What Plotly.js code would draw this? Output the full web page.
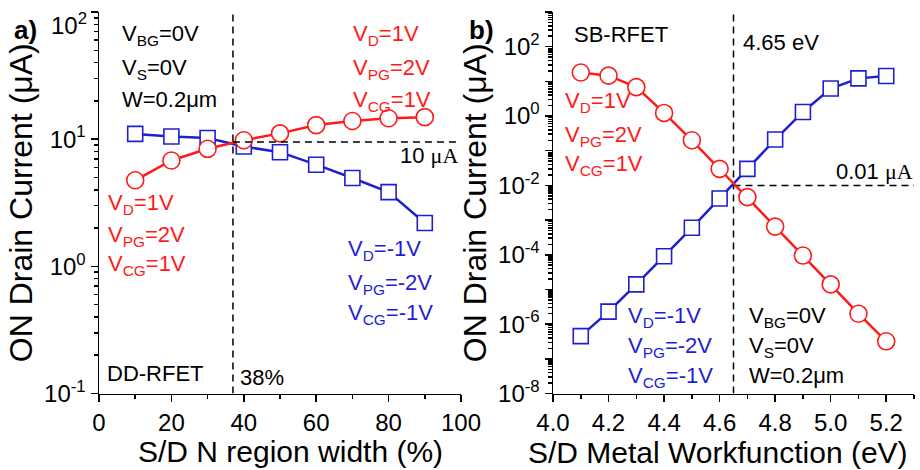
<!DOCTYPE html>
<html>
<head>
<meta charset="utf-8">
<script src="https://cdn.plot.ly/plotly-3.0.1.min.js"></script>
<style>html,body{margin:0;padding:0;background:#fff}#chart{width:920px;height:470px}</style>
</head>
<body>
<div id="chart"></div>
<script>
// ---- Data: panel a) DD-RFET ----
const widthPct = [10, 20, 30, 40, 50, 60, 70, 80, 90];
const nOnCurrentA = [4.75, 6.8, 8.4, 9.8, 11.1, 12.9, 13.9, 14.6, 14.9];   // red, uA
const pOnCurrentA = [11.0, 10.5, 10.2, 8.75, 7.9, 6.3, 4.95, 3.83, 2.19];  // blue, uA
const crossWidth = 37;
const crossCurrentA = 9.5;

// ---- Data: panel b) SB-RFET ----
const workfunction = [4.1, 4.2, 4.3, 4.4, 4.5, 4.6, 4.7, 4.8, 4.9, 5.0, 5.1, 5.2];
const nOnCurrentB = [18, 14.6, 6.8, 1.23, 0.2, 0.030, 0.0046, 6.5e-4, 9.5e-5, 1.4e-5, 2.0e-6, 3.2e-7];
const pOnCurrentB = [4.5e-7, 2.3e-6, 1.4e-5, 9.1e-5, 6e-4, 4.2e-3, 0.030, 0.21, 1.31, 6.2, 12.2, 14.3];
const crossWF = 4.65;
const crossCurrentB = 0.01;

// ---- Tick labels ----
const yTickValsA = [0.1, 1, 10, 100];
const yTickTextA = ['10<sup>-1</sup>', '10<sup>0</sup>', '10<sup>1</sup>', ''];
const yTopLabelA = '10<sup>2</sup>';   // drawn slightly lowered so it fits the page, as in the original
const yTickValsB = [1e-8, 1e-7, 1e-6, 1e-5, 1e-4, 1e-3, 1e-2, 1e-1, 1, 10, 100, 1000];
const yTickTextB = ['10<sup>-8</sup>', '', '10<sup>-6</sup>', '', '10<sup>-4</sup>', '', '10<sup>-2</sup>', '', '10<sup>0</sup>', '', '10<sup>2</sup>', ''];

const RED = '#ff1a1a';
const BLUE = '#1f1fd0';
const FONT = 'Liberation Sans, Arial, sans-serif';

function minorLog(lo, hi) {
  const v = [];
  for (let e = lo; e < hi; e++) for (let m = 2; m <= 9; m++) v.push(m * Math.pow(10, e));
  return v;
}

const W = 920, H = 470;
const dxA = [99 / W, 461 / W];
const dxB = [553 / W, 914 / W];
const dy = [(H - 393.5) / H, (H - 12) / H];

const traces = [
  {x: widthPct, y: pOnCurrentA, xaxis: 'x', yaxis: 'y', mode: 'lines+markers',
   line: {color: BLUE, width: 2.5},
   marker: {symbol: 'square', size: 15, color: '#fff', line: {color: BLUE, width: 1.6}}},
  {x: widthPct, y: nOnCurrentA, xaxis: 'x', yaxis: 'y', mode: 'lines+markers',
   line: {color: RED, width: 2.5},
   marker: {symbol: 'circle', size: 17, color: '#fff', line: {color: RED, width: 1.6}}},
  {x: [crossWidth, crossWidth], y: [0.1, 100], xaxis: 'x', yaxis: 'y', mode: 'lines',
   line: {color: '#000', width: 1.5, dash: '7px,5px'}},
  {x: [crossWidth, 100], y: [crossCurrentA, crossCurrentA], xaxis: 'x', yaxis: 'y', mode: 'lines',
   line: {color: '#000', width: 1.5, dash: '7px,5px'}},

  {x: [crossWF, crossWF], y: [1e-8, 1000], xaxis: 'x2', yaxis: 'y2', mode: 'lines',
   line: {color: '#000', width: 1.5, dash: '7px,5px'}},
  {x: [crossWF, 5.3], y: [crossCurrentB, crossCurrentB], xaxis: 'x2', yaxis: 'y2', mode: 'lines',
   line: {color: '#000', width: 1.5, dash: '7px,5px'}},
  {x: workfunction, y: pOnCurrentB, xaxis: 'x2', yaxis: 'y2', mode: 'lines+markers',
   line: {color: BLUE, width: 2.5},
   marker: {symbol: 'square', size: 15, color: '#fff', line: {color: BLUE, width: 1.6}}},
  {x: workfunction, y: nOnCurrentB, xaxis: 'x2', yaxis: 'y2', mode: 'lines+markers',
   line: {color: RED, width: 2.5},
   marker: {symbol: 'circle', size: 17, color: '#fff', line: {color: RED, width: 1.6}}}
];

const axBase = {showgrid: false, zeroline: false, showline: true, linecolor: '#000', linewidth: 1.5,
  tickcolor: '#000', tickwidth: 1.5, ticklen: 7, ticklabeloverflow: 'allow',
  tickfont: {size: 24, color: '#000', family: FONT}};

const layout = {
  width: W, height: H, margin: {l: 0, r: 0, t: 0, b: 0},
  paper_bgcolor: '#fff', plot_bgcolor: '#fff', showlegend: false,
  font: {family: FONT, color: '#000'},
  xaxis: Object.assign({}, axBase, {domain: dxA, anchor: 'y', range: [0, 100], tickmode: 'linear', tick0: 0, dtick: 20,
    ticks: 'outside', minor: {dtick: 10, tick0: 0, ticks: 'outside', ticklen: 4, tickwidth: 1.5, tickcolor: '#000'}}),
  xaxis3: Object.assign({}, axBase, {overlaying: 'x', side: 'top', anchor: 'y', range: [0, 100], tickmode: 'linear', tick0: 0, dtick: 20,
    ticks: 'inside', showticklabels: false, minor: {dtick: 10, tick0: 0, ticks: 'inside', ticklen: 4, tickwidth: 1.5, tickcolor: '#000'}}),
  yaxis: Object.assign({}, axBase, {domain: dy, anchor: 'x', type: 'log', range: [-1, 2], tickmode: 'array',
    tickvals: yTickValsA, ticktext: yTickTextA, ticks: 'outside',
    minor: {tickmode: 'array', tickvals: minorLog(-1, 2), ticks: 'outside', ticklen: 4, tickwidth: 1.5, tickcolor: '#000'},
    title: {text: 'ON Drain Current (μA)', font: {size: 32, family: FONT}, standoff: 2}}),
  yaxis3: Object.assign({}, axBase, {overlaying: 'y', side: 'right', anchor: 'x', type: 'log', range: [-1, 2], tickmode: 'array',
    tickvals: yTickValsA, ticks: 'inside', showticklabels: false,
    minor: {tickmode: 'array', tickvals: minorLog(-1, 2), ticks: 'inside', ticklen: 4, tickwidth: 1.5, tickcolor: '#000'}}),

  xaxis2: Object.assign({}, axBase, {domain: dxB, anchor: 'y2', range: [4.0, 5.3], tickmode: 'linear', tick0: 4.0, dtick: 0.2,
    tickformat: '.1f', ticks: 'outside', minor: {dtick: 0.1, tick0: 4.0, ticks: 'outside', ticklen: 4, tickwidth: 1.5, tickcolor: '#000'}}),
  xaxis4: Object.assign({}, axBase, {overlaying: 'x2', side: 'top', anchor: 'y2', range: [4.0, 5.3], tickmode: 'linear', tick0: 4.0, dtick: 0.2,
    ticks: 'inside', showticklabels: false, minor: {dtick: 0.1, tick0: 4.0, ticks: 'inside', ticklen: 4, tickwidth: 1.5, tickcolor: '#000'}}),
  yaxis2: Object.assign({}, axBase, {domain: dy, anchor: 'x2', type: 'log', range: [-8, 3], tickmode: 'array',
    tickvals: yTickValsB, ticktext: yTickTextB, ticks: 'outside',
    minor: {tickmode: 'array', tickvals: minorLog(-8, 3), ticks: 'outside', ticklen: 4, tickwidth: 1.5, tickcolor: '#000'},
    title: {text: 'ON Drain Current (μA)', font: {size: 32, family: FONT}, standoff: 2}}),
  yaxis4: Object.assign({}, axBase, {overlaying: 'y2', side: 'right', anchor: 'x2', type: 'log', range: [-8, 3], tickmode: 'array',
    tickvals: yTickValsB, ticks: 'inside', showticklabels: false,
    minor: {tickmode: 'array', tickvals: minorLog(-8, 3), ticks: 'inside', ticklen: 4, tickwidth: 1.5, tickcolor: '#000'}}),
  annotations: []
};

function ann(text, px, py, xanchor, color, size, bold) {
  layout.annotations.push({text: bold ? '<b>' + text + '</b>' : text, xref: 'paper', yref: 'paper',
    x: px / W, y: 1 - py / H, xanchor: xanchor, yanchor: 'middle', showarrow: false,
    font: {size: size || 22, color: color || '#000', family: FONT}});
}
const MU = "<span style='font-family:Liberation Serif'>μA</span>";

// axis titles (x)
ann('S/D N region width (%)', 290, 451, 'center', '#000', 30);
ann('S/D Metal Workfunction (eV)', 718, 452, 'center', '#000', 30);
// top tick label of panel a, lowered to stay on the page
ann(yTopLabelA, 89, 24, 'right', '#000', 24);

// panel a
ann('a)', 12, 30, 'left', '#000', 26, true);
ann('V<sub>BG</sub>=0V', 120, 35, 'left');
ann('V<sub>S</sub>=0V', 120, 69, 'left');
ann('W=0.2μm', 120, 99, 'left');
ann('V<sub>D</sub>=1V', 351, 35, 'left', RED);
ann('V<sub>PG</sub>=2V', 351, 69, 'left', RED);
ann('V<sub>CG</sub>=1V', 351, 101, 'left', RED);
ann('V<sub>D</sub>=1V', 106, 204, 'left', RED);
ann('V<sub>PG</sub>=2V', 106, 236, 'left', RED);
ann('V<sub>CG</sub>=1V', 106, 265, 'left', RED);
ann('V<sub>D</sub>=-1V', 346, 250, 'left', BLUE);
ann('V<sub>PG</sub>=-2V', 346, 284, 'left', BLUE);
ann('V<sub>CG</sub>=-1V', 346, 314, 'left', BLUE);
ann('DD-RFET', 105, 373, 'left');
ann('38%', 238, 377, 'left');
ann('10 ' + MU, 460, 155, 'right');

// panel b
ann('b)', 467, 30, 'left', '#000', 26, true);
ann('SB-RFET', 572, 34, 'left');
ann('4.65 eV', 741, 43, 'left');
ann('V<sub>D</sub>=1V', 563, 102, 'left', RED);
ann('V<sub>PG</sub>=2V', 563, 136, 'left', RED);
ann('V<sub>CG</sub>=1V', 563, 165, 'left', RED);
ann('0.01 ' + MU, 915, 171, 'right');
ann('V<sub>D</sub>=-1V', 626, 317, 'left', BLUE);
ann('V<sub>PG</sub>=-2V', 626, 347, 'left', BLUE);
ann('V<sub>CG</sub>=-1V', 626, 377, 'left', BLUE);
ann('V<sub>BG</sub>=0V', 747, 317, 'left');
ann('V<sub>S</sub>=0V', 747, 347, 'left');
ann('W=0.2μm', 747, 375, 'left');

Plotly.newPlot('chart', traces, layout, {staticPlot: true, displayModeBar: false});
</script>
</body>
</html>
